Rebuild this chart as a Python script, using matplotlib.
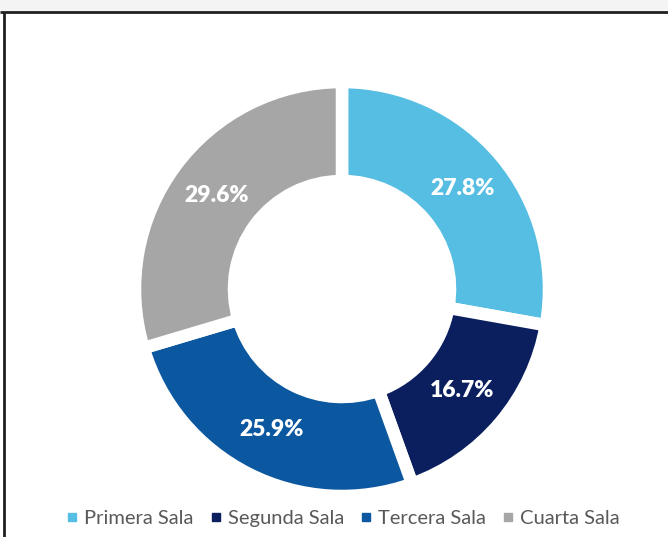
import matplotlib.pyplot as plt
from matplotlib.lines import Line2D
from matplotlib.patches import Rectangle

# data
salas = ['Primera Sala', 'Segunda Sala', 'Tercera Sala', 'Cuarta Sala']
porcentajes = [27.8, 16.7, 25.9, 29.6]
colores = ['#56BDE3', '#0B1F5E', '#0C58A0', '#A6A6A6']

W, H = 668, 537
fig = plt.figure(figsize=(W / 100, H / 100), dpi=100)
fig.patch.set_facecolor('white')

# axes in pixel units
ax = fig.add_axes([0, 0, 1, 1])

# frame of the chart area (top and left edges visible)
ax.add_patch(Rectangle((0, H - 11), W, 11, facecolor='#f4f4f4', edgecolor='none', zorder=0))
ax.plot([0, W], [H - 12, H - 12], color='#202020', lw=2.0, solid_capstyle='butt', zorder=1)
ax.plot([3.5, 3.5], [0, H - 12], color='#202020', lw=2.0, solid_capstyle='butt', zorder=1)

R = 207
wedges, _, autotexts = ax.pie(
    porcentajes, colors=colores, startangle=90, counterclock=False,
    center=(342, H - 289), radius=R, frame=True,
    autopct=lambda p: f'{p:.1f}%', pctdistance=157 / R,
    wedgeprops=dict(width=99, edgecolor='white', linewidth=9),
    textprops=dict(color='white', fontsize=16.5, fontweight='heavy', family='Lato'),
)
ax.set_xlim(0, W)
ax.set_ylim(0, H)
ax.set_aspect('equal')
ax.axis('off')

handles = [Line2D([0], [0], marker='s', linestyle='none', markersize=6,
                  markerfacecolor=c, markeredgecolor=c) for c in colores]
leg = fig.legend(handles, salas, loc='center', bbox_to_anchor=(343.5 / W, 1 - 518 / H),
                 ncol=4, frameon=False, handlelength=0.5, handletextpad=0.35,
                 columnspacing=0.85, prop=dict(family='Lato', size=14.5))
for t in leg.get_texts():
    t.set_color('#595959')

fig.savefig('out.png', dpi=100)
